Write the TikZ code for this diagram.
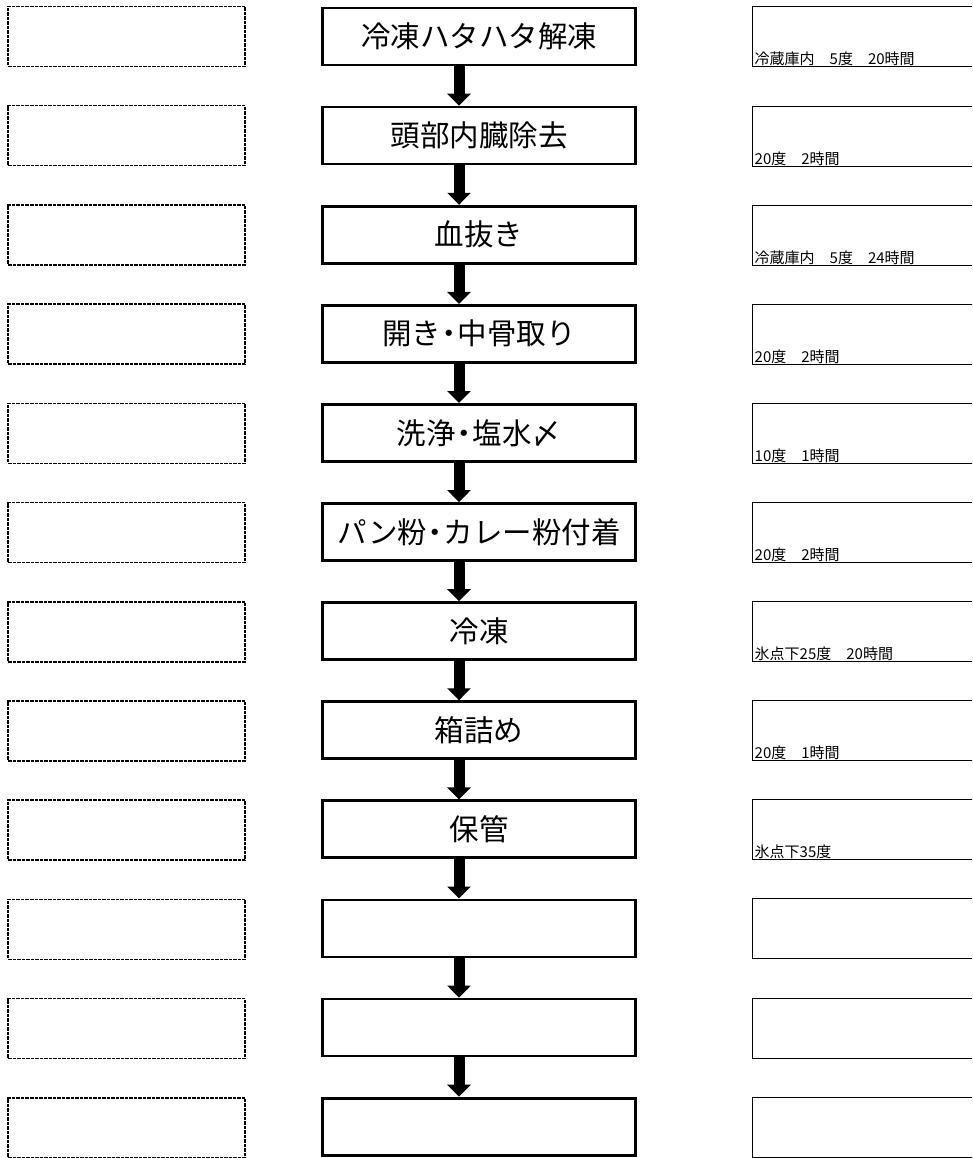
\documentclass[tikz,border=0pt]{standalone}
\usepackage{fontspec}
\newfontfamily\jp{Noto Sans CJK JP}
\usetikzlibrary{arrows.meta}
\newcommand\ndot{\kern-0.22em・\kern-0.22em}
\tikzset{
  notebox/.style={draw, line width=1.6pt, dash pattern=on 3.5pt off 1pt, minimum width=237pt, minimum height=60pt, inner sep=0pt},
  stepbox/.style={draw, line width=2.8pt, minimum width=313pt, minimum height=57pt, inner sep=0pt, font=\jp\fontsize{29.5}{31}\selectfont},
  condbox/.style={draw, line width=1pt, minimum width=223pt, minimum height=60pt, inner sep=0pt},
  condtext/.style={anchor=base west, inner sep=0pt, font=\jp\fontsize{15}{16}\selectfont},
  flowarrow/.style={line width=11pt, -{Triangle[width=23pt,length=12pt]}}
}
\begin{document}
\begin{tikzpicture}[x=1pt, y=-1pt]
\clip (0,0) rectangle (972,1158);
\fill[white] (0,0) rectangle (972,1158);
\foreach \i/\c/\r in {
  0/冷凍ハタハタ解凍/冷蔵庫内　5度　20時間,
  1/頭部内臓除去/20度　2時間,
  2/血抜き/冷蔵庫内　5度　24時間,
  3/開き\ndot 中骨取り/20度　2時間,
  4/洗浄\ndot 塩水〆/10度　1時間,
  5/パン粉\ndot カレー粉付着/20度　2時間,
  6/冷凍/氷点下25度　20時間,
  7/箱詰め/20度　1時間,
  8/保管/氷点下35度,
  9/{}/{},
  10/{}/{},
  11/{}/{}} {
  \pgfmathsetmacro\yl{36.5+\i*99.2}
  \pgfmathsetmacro\yc{36.5+\i*99.1}
  \pgfmathsetmacro\yr{37+\i*99.1}
  \node[notebox] (L\i) at (126.5,\yl) {};
  \node[stepbox] (C\i) at (479,\yc) {\c};
  \node[condbox] (R\i) at (863.5,\yr) {};
  \node[condtext] (T\i) at ([xshift=3pt,yshift=2.5pt]R\i.south west) {\r};
}
\foreach \i in {0,...,10} {
  \pgfmathtruncatemacro\j{\i+1}
  \draw[flowarrow] ([xshift=-20pt]C\i.south) -- ([xshift=-20pt]C\j.north);
}
\end{tikzpicture}
\end{document}
